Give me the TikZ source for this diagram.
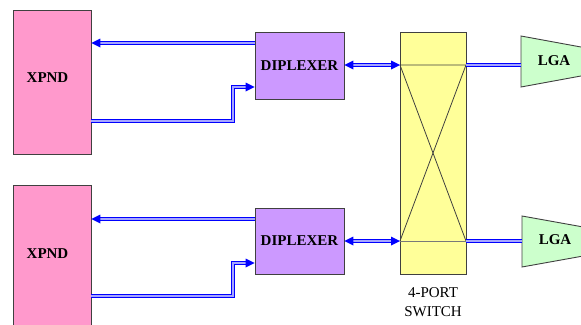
\documentclass[tikz,border=0pt]{standalone}
\usepackage{fontspec}
\setmainfont{Liberation Serif}
\usetikzlibrary{arrows.meta,calc}
\definecolor{xpndpink}{HTML}{FF99CC}
\definecolor{dippurple}{HTML}{CC99FF}
\definecolor{swyellow}{HTML}{FFFF99}
\definecolor{lgagreen}{HTML}{CCFFCC}
\definecolor{edgegray}{HTML}{404040}
\definecolor{linkblue}{HTML}{0000FF}
\begin{document}
\begin{tikzpicture}[x=1pt,y=-1pt,
  box/.style={draw=edgegray,line width=0.9pt,inner sep=0pt},
  lbl/.style={font=\fontsize{15}{17}\selectfont\bfseries,inner sep=0pt},
  conn/.style={draw=linkblue,line width=1pt,double=linkblue!35,double distance=1.4pt},
  tipfill/.style={fill=linkblue}]
\useasboundingbox (0,0) rectangle (581,324);
\clip (0,0) rectangle (581,324);
% XPND boxes
\node[box,fill=xpndpink,minimum width=78pt,minimum height=144pt] (xpnd1) at (52,82) {};
\node[lbl] (xpndlbl1) at (47.5,78) {XPND};
\node[box,fill=xpndpink,minimum width=78pt,minimum height=150pt] (xpnd2) at (52,260) {};
\node[lbl] (xpndlbl2) at (47.5,254) {XPND};
% Diplexers
\node[box,fill=dippurple,minimum width=89pt,minimum height=67pt,lbl] (dip1) at (299.5,65.5) {DIPLEXER};
\node[box,fill=dippurple,minimum width=89pt,minimum height=66pt,lbl] (dip2) at (299.5,241) {DIPLEXER};
% Switch
\node[box,fill=swyellow,minimum width=66pt,minimum height=242pt] (sw) at (433,153) {};
\coordinate (s1) at (400,65);
\coordinate (s2) at (466,65);
\coordinate (s3) at (400,241);
\coordinate (s4) at (466,241);
\draw[edgegray,line width=0.8pt] (s1) -- (s2) (s1) -- (s4) (s2) -- (s3);
\draw[edgegray!70,line width=0.8pt] (s3) -- (s4);
\node[font=\fontsize{15}{19}\selectfont,align=center,inner sep=0pt] (swlbl) at (433,302) {4-PORT\\SWITCH};
% LGAs
\draw[box,fill=lgagreen] (521,36) -- (600,50.5) -- (600,72.5) -- (521,87) -- cycle;
\node[lbl] (lga1) at (554,61) {LGA};
\coordinate (lgain1) at (521,65);
\draw[box,fill=lgagreen] (522,216) -- (600,230) -- (600,253) -- (522,267) -- cycle;
\node[lbl] (lga2) at (555,240) {LGA};
\coordinate (lgain2) at (522,241);
% tip points
\coordinate (t1) at (xpnd1.east |- 0,43);
\coordinate (t2) at (dip1.west |- 0,87);
\coordinate (t3) at (dip1.east |- s1);
\coordinate (t5) at (xpnd2.east |- 0,219);
\coordinate (t6) at (dip2.west |- 0,263);
\coordinate (t7) at (dip2.east |- s3);
% Connectors top
\coordinate (bend1) at (233,121);
\coordinate (bend2) at (233,87);
\draw[conn,shorten >=6pt] (dip1.west |- t1) -- (t1);
\draw[conn,shorten >=6pt] (xpnd1.east |- bend1) -- (bend1) -- (bend2) -- (t2);
\draw[conn,shorten >=6pt,shorten <=6pt] (t3) -- (s1);
\draw[conn] (s2) -- (lgain1);
% Connectors bottom
\coordinate (bend3) at (233,296);
\coordinate (bend4) at (233,263);
\draw[conn,shorten >=6pt] (dip2.west |- t5) -- (t5);
\draw[conn,shorten >=6pt] (xpnd2.east |- bend3) -- (bend3) -- (bend4) -- (t6);
\draw[conn,shorten >=6pt,shorten <=6pt] (t7) -- (s3);
\draw[conn] (s4) -- (lgain2);
% arrowheads
\fill[tipfill] (t1) -- ++(9,-4.5) -- ++(0,9) -- cycle;
\fill[tipfill] (t5) -- ++(9,-4.5) -- ++(0,9) -- cycle;
\fill[tipfill] (t2) -- ++(-9,-4.5) -- ++(0,9) -- cycle;
\fill[tipfill] (t6) -- ++(-9,-4.5) -- ++(0,9) -- cycle;
\fill[tipfill] (t3) -- ++(9,-4.5) -- ++(0,9) -- cycle;
\fill[tipfill] (t7) -- ++(9,-4.5) -- ++(0,9) -- cycle;
\fill[tipfill] (s1) -- ++(-9,-4.5) -- ++(0,9) -- cycle;
\fill[tipfill] (s3) -- ++(-9,-4.5) -- ++(0,9) -- cycle;
\end{tikzpicture}
\end{document}
